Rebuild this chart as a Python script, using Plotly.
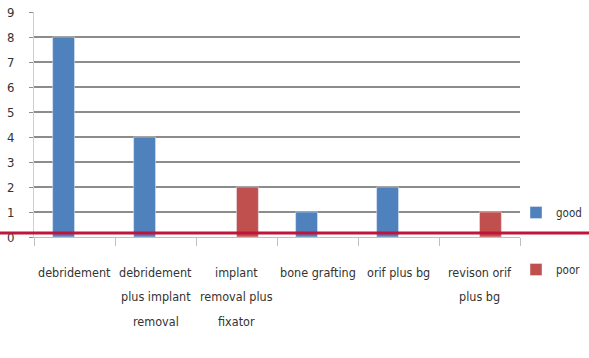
import plotly.graph_objects as go

categories = ["debridement", "debridement plus implant removal", "implant removal plus fixator",
              "bone grafting", "orif plus bg", "revison orif plus bg"]
label_lines = [["debridement"], ["debridement", "plus implant", "removal"],
               ["implant", "removal plus", "fixator"], ["bone grafting"], ["orif plus bg"],
               ["revison orif", "plus bg"]]
good = [8, 4, None, 1, 2, None]
poor = [None, None, 2, None, None, 1]
y_ticks = list(range(0, 10))

FONT = "Liberation Sans Narrow, DejaVu Sans Condensed, Arial Narrow, sans-serif"
W, H = 589, 358
ML, MR, MT, MB = 34, 69, 12, 121
PW = W - ML - MR
PH = H - MT - MB

fig = go.Figure()
fig.add_trace(go.Bar(x=categories, y=good, name="good", marker_color="#4f81bd",
                     legend="legend"))
fig.add_trace(go.Bar(x=categories, y=poor, name="poor", marker_color="#c0504d",
                     legend="legend2"))

# category labels (multi-line, wide line spacing)
for cat, lines in zip(categories, label_lines):
    for i, ln in enumerate(lines):
        fig.add_annotation(x=cat, xref="x", y=0, yref="y", text=ln, showarrow=False,
                           yanchor="middle", yshift=-35 - 24.5 * i,
                           font=dict(family=FONT, size=12.5, color="#333333"))

# red baseline overlay
fig.add_shape(type="line", xref="paper", yref="y", x0=-ML / PW, x1=(W - ML) / PW,
              y0=0.16, y1=0.16, line=dict(color="#c0143c", width=3), layer="above")

LEG_X = (516 - ML) / PW
fig.update_layout(
    width=W, height=H, margin=dict(l=ML, r=MR, t=MT, b=MB, autoexpand=False),
    paper_bgcolor="white", plot_bgcolor="white",
    barmode="group", bargap=0.46, bargroupgap=0,
    font=dict(family=FONT, size=12, color="#333333"),
    showlegend=True,
    legend=dict(x=LEG_X, y=(H - MB - 198) / PH, xanchor="left", yanchor="top",
                bgcolor="rgba(0,0,0,0)", font=dict(family=FONT, size=11.5, color="#333333"),
                itemwidth=30, tracegroupgap=0),
    legend2=dict(x=LEG_X, y=(H - MB - 255) / PH, xanchor="left", yanchor="top",
                 bgcolor="rgba(0,0,0,0)", font=dict(family=FONT, size=11.5, color="#333333"),
                 itemwidth=30),
    xaxis=dict(type="category", range=[-0.5, 5.5], showticklabels=False,
               ticks="outside", tickson="boundaries", ticklen=8, tickcolor="#bfbfbf",
               showline=True, linecolor="#bfbfbf", linewidth=1, showgrid=False,
               zeroline=False),
    yaxis=dict(range=[0, 9], tickvals=y_ticks, ticks="outside", ticklen=4,
               tickcolor="#8c8c8c", showgrid=True, gridcolor="#8c8c8c", gridwidth=1.5,
               showline=True, linecolor="#d0d0d0", linewidth=1, zeroline=False,
               ticklabelstandoff=12,
               tickfont=dict(family=FONT, size=13, color="#333333")),
)

fig.write_html("out.html")
